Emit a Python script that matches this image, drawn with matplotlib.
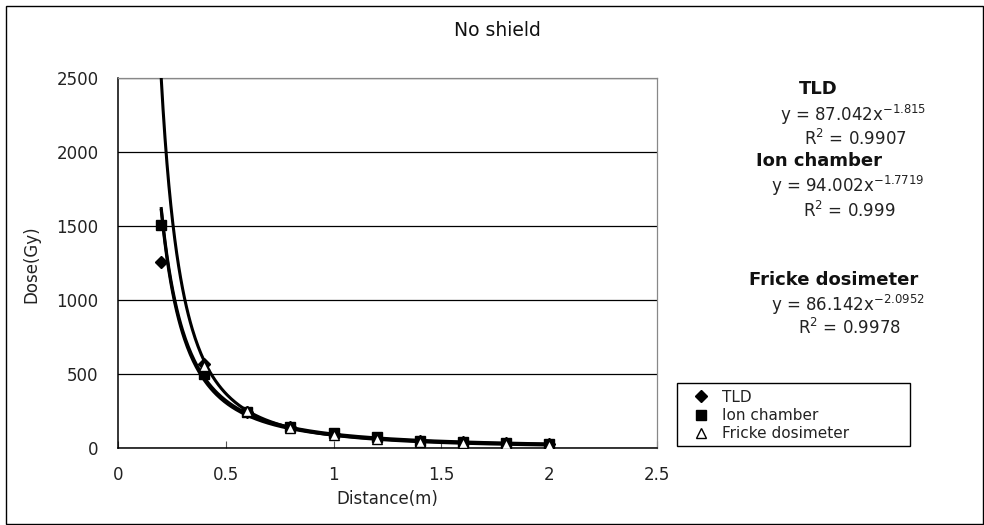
import matplotlib
matplotlib.use('Agg')
import matplotlib.pyplot as plt
from matplotlib.patches import Rectangle
from matplotlib.lines import Line2D
import numpy as np

plt.rcParams['font.family'] = ['DejaVu Sans']
plt.rcParams['mathtext.default'] = 'regular'

# ---- data ----
distance = [0.2, 0.4, 0.6, 0.8, 1.0, 1.2, 1.4, 1.6, 1.8, 2.0]
tld = [1260, 570, 245, 145, 95, 70, 50, 40, 32, 26]
ion_chamber = [1510, 500, 240, 145, 100, 72, 50, 40, 32, 28]
fricke_distance = [0.4, 0.6, 0.8, 1.0, 1.2, 1.4, 1.6, 1.8, 2.0]
fricke = [555, 250, 135, 85, 60, 42, 32, 25, 20]

series_names = ['TLD', 'Ion chamber', 'Fricke dosimeter']
fit_coef = [87.042, 94.002, 86.142]
fit_exp = [-1.815, -1.7719, -2.0952]
fit_coef_text = ['87.042', '94.002', '86.142']
fit_exp_text = ['-1.815', '-1.7719', '-2.0952']
fit_r2_text = ['0.9907', '0.999', '0.9978']
fit_range = [0.2, 2.0]

x_ticks = [0, 0.5, 1, 1.5, 2, 2.5]
x_tick_labels = ['0', '0.5', '1', '1.5', '2', '2.5']
y_ticks = [0, 500, 1000, 1500, 2000, 2500]

title = 'No shield'
x_label = 'Distance(m)'
y_label = 'Dose(Gy)'

# ---- figure ----
W, H = 984, 525
fig = plt.figure(figsize=(W / 100, H / 100), dpi=100)
fig.patch.set_facecolor('white')

def fx(px):
    return px / W

def fy(py):
    return 1 - py / H

# outer chart border
fig.patches.append(Rectangle((fx(5.5), fy(523.5)), fx(977), (518) / H,
                             transform=fig.transFigure, fill=False,
                             edgecolor='black', linewidth=1.0))

ax = fig.add_axes([fx(118), fy(448), (657 - 118) / W, (448 - 78) / H])
ax.set_xlim(0, 2.5)
ax.set_ylim(0, 2500)

ax.set_yticks(y_ticks)
ax.set_xticks(x_ticks)
ax.set_xticklabels(x_tick_labels)
ax.yaxis.grid(True, color='black', linewidth=0.9)
ax.set_axisbelow(True)

for s in ['top', 'right']:
    ax.spines[s].set_color('#888888')
    ax.spines[s].set_linewidth(0.9)
for s in ['left', 'bottom']:
    ax.spines[s].set_color('black')
    ax.spines[s].set_linewidth(1.1)

ax.tick_params(axis='y', length=0, pad=14, labelsize=12, labelcolor='#222222')
ax.tick_params(axis='x', direction='in', length=5, width=0.8, color='#555555',
               pad=13, labelsize=12, labelcolor='#222222')

# trend lines (power fits as displayed)
xs = np.linspace(fit_range[0], fit_range[1], 400)
for a, b in zip(fit_coef, fit_exp):
    ax.plot(xs, a * xs ** b, color='black', linewidth=2.2, zorder=3,
            solid_capstyle='butt')

# markers
ax.plot(distance, tld, ls='none', marker='D', ms=6.5, color='black', zorder=4)
ax.plot(distance, ion_chamber, ls='none', marker='s', ms=7.5, color='black', zorder=5)
ax.plot(fricke_distance, fricke, ls='none', marker='^', ms=7.5,
        markerfacecolor='white', markeredgecolor='black', markeredgewidth=1.0, zorder=6)

# title & axis labels
fig.text(fx(497), fy(31), title, ha='center', va='center', fontsize=13.5, color='#111111')
fig.text(fx(387), fy(499), x_label, ha='center', va='center', fontsize=12, color='#222222')
fig.text(fx(31), fy(264), y_label, ha='center', va='center', fontsize=12,
         rotation=90, color='#222222')

# fit annotations
name_pos = [(818, 89), (819, 161), (834, 280)]
eq_pos = [(853, 115), (848, 186), (848, 305)]
r2_pos = [(855, 139), (849, 211), (850, 328)]
for i in range(3):
    fig.text(fx(name_pos[i][0]), fy(name_pos[i][1]), series_names[i], ha='center',
             va='center', fontsize=13, fontweight='bold', color='#111111')
    eq = 'y = ' + fit_coef_text[i] + 'x$^{' + fit_exp_text[i].replace('-', '\u2212') + '}$'
    fig.text(fx(eq_pos[i][0]), fy(eq_pos[i][1]), eq, ha='center', va='center',
             fontsize=12, color='#222222')
    fig.text(fx(r2_pos[i][0]), fy(r2_pos[i][1]), 'R$^{2}$ = ' + fit_r2_text[i],
             ha='center', va='center', fontsize=12, color='#222222')

# legend
fig.patches.append(Rectangle((fx(677), fy(446)), (910 - 677) / W, (446 - 383) / H,
                             transform=fig.transFigure, fill=False,
                             edgecolor='black', linewidth=1.0))
handles = [
    Line2D([], [], ls='none', marker='D', ms=6, color='black'),
    Line2D([], [], ls='none', marker='s', ms=7, color='black'),
    Line2D([], [], ls='none', marker='^', ms=7, markerfacecolor='white',
           markeredgecolor='black'),
]
fig.legend(handles, series_names, loc='upper left',
           bbox_to_anchor=(fx(681), fy(379)), frameon=False, fontsize=11,
           handlelength=1.2, handletextpad=0.8, labelspacing=0.22,
           borderpad=0.2, labelcolor='#222222')

fig.savefig('out.png', dpi=100, facecolor='white')
